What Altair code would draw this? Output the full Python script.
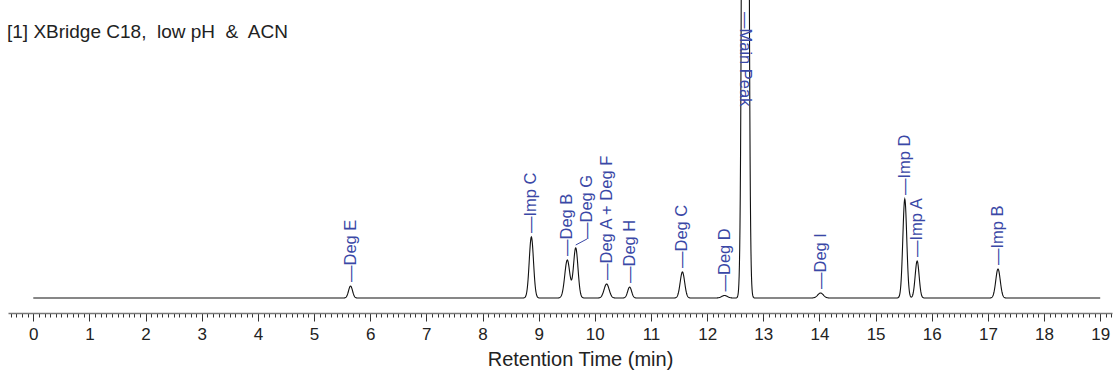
import altair as alt
import numpy as np
import pandas as pd

# Peak table: name, retention time (min), apex height (signal units), gaussian sigma (min)
peak_names = ["Deg E", "Imp C", "Deg B", "Deg G", "Deg A + Deg F", "Deg H", "Deg C",
              "Deg D", "Main Peak", "Deg I", "Imp D", "Imp A", "Imp B"]
peak_times = [5.65, 8.87, 9.51, 9.66, 10.21, 10.62, 11.56, 12.31, 12.68, 14.02, 15.52, 15.74, 17.18]
peak_heights = [12, 61, 38, 50, 14, 11, 26, 2.5, 2300, 5, 99, 37, 29]
peak_sigmas = [0.035, 0.038, 0.045, 0.040, 0.045, 0.035, 0.040, 0.050, 0.036, 0.050, 0.035, 0.035, 0.040]
# horizontal shift (min) of a label that is moved aside from its peak
label_shift = [0, 0, 0, 0.2, 0, 0, 0, 0, 0, 0, 0, 0, 0]

x_ticks = [round(-0.4 + 0.1 * i, 1) for i in range(197)]
run_end = 19.0

FONT = "Liberation Sans"
BLUE = "#3a48a6"
NB = "\u00a0"

# chromatogram trace built from the peak table
t = np.round(np.arange(0.0, run_end + 1e-9, 0.005), 3)
signal = np.zeros_like(t)
for rt, h, s in zip(peak_times, peak_heights, peak_sigmas):
    signal += h * np.exp(-0.5 * ((t - rt) / s) ** 2)
trace = pd.DataFrame({"time": t, "signal": signal})

peaks = pd.DataFrame({
    "name": peak_names,
    "time": peak_times,
    "height": peak_heights,
    "shift": label_shift,
})
peaks["text"] = "\u2014" + peaks["name"]
peaks["label_x"] = peaks["time"] + peaks["shift"]
peaks["label_y"] = peaks["height"] + np.where(peaks["shift"] > 0, 9, 4)
peaks["stem_y"] = peaks["height"] + 3

xscale = alt.Scale(domain=[-0.45, 19.21], nice=False, zero=False)
yscale = alt.Scale(domain=[-15, 298], nice=False, zero=False)

is_major = "abs(datum.value - round(datum.value)) < 0.001"

x_axis = alt.Axis(
    values=x_ticks,
    title="Retention Time (min)",
    titleFont=FONT, titleFontSize=20, titleFontWeight="normal", titleColor="#222",
    titleX=572, titleY=52, titleAlign="center", titleBaseline="alphabetic",
    labelFont=FONT, labelFontSize=17, labelColor="#222", labelPadding=5,
    labelOverlap=False, labelFlush=False, labelBound=False,
    labelExpr=f"({is_major} && datum.value >= 0 && datum.value <= 19) ? format(round(datum.value), 'd') : ''",
    tickSize={"condition": {"test": is_major, "value": 8}, "value": 4},
    tickColor="#333", tickWidth=1,
    domainColor="#777", domainWidth=1.5,
    grid=False,
)

line = alt.Chart(trace).mark_line(color="#111", strokeWidth=1.1, clip=True).encode(
    x=alt.X("time:Q", scale=xscale, axis=x_axis),
    y=alt.Y("signal:Q", scale=yscale, axis=None),
)

small = peaks[peaks["name"] != "Main Peak"]

labels = alt.Chart(small).mark_text(
    angle=270, align="left", baseline="middle", font=FONT, fontSize=16.5, color=BLUE,
).encode(
    x=alt.X("label_x:Q", scale=xscale, axis=x_axis),
    y=alt.Y("label_y:Q", scale=yscale, axis=None),
    text="text:N",
)

connectors = alt.Chart(small[small["shift"] > 0]).mark_rule(color=BLUE, strokeWidth=1).encode(
    x=alt.X("time:Q", scale=xscale, axis=x_axis),
    x2="label_x:Q",
    y=alt.Y("stem_y:Q", scale=yscale, axis=None),
    y2="label_y:Q",
)

main_label = alt.Chart(peaks[peaks["name"] == "Main Peak"]).mark_text(
    angle=90, align="left", baseline="middle", font=FONT, fontSize=16.5, color=BLUE,
).encode(
    x=alt.X("time:Q", scale=xscale, axis=x_axis),
    y=alt.value(12),
    text="text:N",
)

title_text = f"[1] XBridge C18,{NB} low pH {NB}&{NB} ACN"
title = alt.Chart(pd.DataFrame({"t": [title_text]})).mark_text(
    align="left", baseline="alphabetic", font=FONT, fontSize=19, color="#222",
).encode(x=alt.value(-1), y=alt.value(38), text="t:N")

chart = alt.layer(line, connectors, labels, main_label, title).properties(
    width=1104, height=313,
    padding={"left": 8, "top": 0, "right": 3, "bottom": 60},
    autosize=alt.AutoSizeParams(type="none"),
).configure_view(stroke=None)

chart.save("out.html", embed_options={"renderer": "svg", "actions": False})
